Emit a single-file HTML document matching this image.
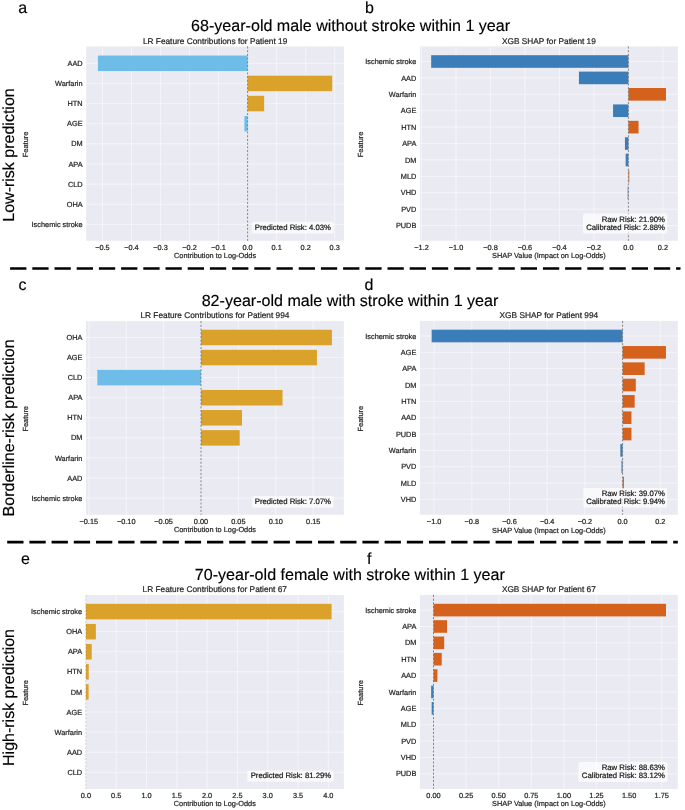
<!DOCTYPE html><html><head><meta charset="utf-8"><style>html,body{margin:0;padding:0;background:#fff;}svg{display:block;filter:blur(0.45px);text-rendering:geometricPrecision;}</style></head><body><svg width="685" height="810" viewBox="0 0 685 810" font-family='"Liberation Sans", sans-serif'>
<rect width="685" height="810" fill="#fff"/>
<rect x="86.2" y="46.4" width="257.80" height="194.40" fill="#EAEAF2"/>
<line x1="102.40" y1="46.4" x2="102.40" y2="240.8" stroke="#fff" stroke-width="1" stroke-opacity="0.5"/>
<line x1="131.44" y1="46.4" x2="131.44" y2="240.8" stroke="#fff" stroke-width="1" stroke-opacity="0.5"/>
<line x1="160.48" y1="46.4" x2="160.48" y2="240.8" stroke="#fff" stroke-width="1" stroke-opacity="0.5"/>
<line x1="189.52" y1="46.4" x2="189.52" y2="240.8" stroke="#fff" stroke-width="1" stroke-opacity="0.5"/>
<line x1="218.56" y1="46.4" x2="218.56" y2="240.8" stroke="#fff" stroke-width="1" stroke-opacity="0.5"/>
<line x1="247.60" y1="46.4" x2="247.60" y2="240.8" stroke="#fff" stroke-width="1" stroke-opacity="0.5"/>
<line x1="276.64" y1="46.4" x2="276.64" y2="240.8" stroke="#fff" stroke-width="1" stroke-opacity="0.5"/>
<line x1="305.68" y1="46.4" x2="305.68" y2="240.8" stroke="#fff" stroke-width="1" stroke-opacity="0.5"/>
<line x1="334.72" y1="46.4" x2="334.72" y2="240.8" stroke="#fff" stroke-width="1" stroke-opacity="0.5"/>
<line x1="86.2" y1="63.30" x2="344" y2="63.30" stroke="#fff" stroke-width="1" stroke-opacity="0.5"/>
<line x1="86.2" y1="83.43" x2="344" y2="83.43" stroke="#fff" stroke-width="1" stroke-opacity="0.5"/>
<line x1="86.2" y1="103.56" x2="344" y2="103.56" stroke="#fff" stroke-width="1" stroke-opacity="0.5"/>
<line x1="86.2" y1="123.69" x2="344" y2="123.69" stroke="#fff" stroke-width="1" stroke-opacity="0.5"/>
<line x1="86.2" y1="143.82" x2="344" y2="143.82" stroke="#fff" stroke-width="1" stroke-opacity="0.5"/>
<line x1="86.2" y1="163.95" x2="344" y2="163.95" stroke="#fff" stroke-width="1" stroke-opacity="0.5"/>
<line x1="86.2" y1="184.08" x2="344" y2="184.08" stroke="#fff" stroke-width="1" stroke-opacity="0.5"/>
<line x1="86.2" y1="204.21" x2="344" y2="204.21" stroke="#fff" stroke-width="1" stroke-opacity="0.5"/>
<line x1="86.2" y1="224.34" x2="344" y2="224.34" stroke="#fff" stroke-width="1" stroke-opacity="0.5"/>
<rect x="97.93" y="55.55" width="149.67" height="15.50" fill="#6DBDE8"/>
<rect x="247.60" y="75.68" width="84.65" height="15.50" fill="#DAA12B"/>
<rect x="247.60" y="95.81" width="16.55" height="15.50" fill="#DAA12B"/>
<rect x="244.41" y="115.94" width="3.19" height="15.50" fill="#6DBDE8"/>
<line x1="247.60" y1="46.4" x2="247.60" y2="240.8" stroke="#7a7a7a" stroke-opacity="1.0" stroke-width="0.9" stroke-dasharray="2.2 1.5"/>
<rect x="251.9" y="221.8" width="81.70" height="11.60" rx="1.6" fill="#fff" fill-opacity="0.72"/>
<text x="331.00" y="230.00" font-size="7.75" text-anchor="end" fill="#1a1a1a" stroke="#1a1a1a" stroke-width="0.22" >Predicted Risk: 4.03%</text>
<text x="102.40" y="249.90" font-size="7.35" text-anchor="middle" fill="#262626" stroke="#262626" stroke-width="0.22" >−0.5</text>
<text x="131.44" y="249.90" font-size="7.35" text-anchor="middle" fill="#262626" stroke="#262626" stroke-width="0.22" >−0.4</text>
<text x="160.48" y="249.90" font-size="7.35" text-anchor="middle" fill="#262626" stroke="#262626" stroke-width="0.22" >−0.3</text>
<text x="189.52" y="249.90" font-size="7.35" text-anchor="middle" fill="#262626" stroke="#262626" stroke-width="0.22" >−0.2</text>
<text x="218.56" y="249.90" font-size="7.35" text-anchor="middle" fill="#262626" stroke="#262626" stroke-width="0.22" >−0.1</text>
<text x="247.60" y="249.90" font-size="7.35" text-anchor="middle" fill="#262626" stroke="#262626" stroke-width="0.22" >0.0</text>
<text x="276.64" y="249.90" font-size="7.35" text-anchor="middle" fill="#262626" stroke="#262626" stroke-width="0.22" >0.1</text>
<text x="305.68" y="249.90" font-size="7.35" text-anchor="middle" fill="#262626" stroke="#262626" stroke-width="0.22" >0.2</text>
<text x="334.72" y="249.90" font-size="7.35" text-anchor="middle" fill="#262626" stroke="#262626" stroke-width="0.22" >0.3</text>
<text x="82.60" y="65.90" font-size="7.35" text-anchor="end" fill="#262626" stroke="#262626" stroke-width="0.22" >AAD</text>
<text x="82.60" y="86.03" font-size="7.35" text-anchor="end" fill="#262626" stroke="#262626" stroke-width="0.22" >Warfarin</text>
<text x="82.60" y="106.16" font-size="7.35" text-anchor="end" fill="#262626" stroke="#262626" stroke-width="0.22" >HTN</text>
<text x="82.60" y="126.29" font-size="7.35" text-anchor="end" fill="#262626" stroke="#262626" stroke-width="0.22" >AGE</text>
<text x="82.60" y="146.42" font-size="7.35" text-anchor="end" fill="#262626" stroke="#262626" stroke-width="0.22" >DM</text>
<text x="82.60" y="166.55" font-size="7.35" text-anchor="end" fill="#262626" stroke="#262626" stroke-width="0.22" >APA</text>
<text x="82.60" y="186.68" font-size="7.35" text-anchor="end" fill="#262626" stroke="#262626" stroke-width="0.22" >CLD</text>
<text x="82.60" y="206.81" font-size="7.35" text-anchor="end" fill="#262626" stroke="#262626" stroke-width="0.22" >OHA</text>
<text x="82.60" y="226.94" font-size="7.35" text-anchor="end" fill="#262626" stroke="#262626" stroke-width="0.22" >Ischemic stroke</text>
<text x="215.10" y="43.70" font-size="8.3" text-anchor="middle" fill="#262626" stroke="#262626" stroke-width="0.22" >LR Feature Contributions for Patient 19</text>
<text x="215.10" y="258.00" font-size="7.35" text-anchor="middle" fill="#262626" stroke="#262626" stroke-width="0.22" >Contribution to Log-Odds</text>
<text x="28.3" y="144.40" font-size="7.4" text-anchor="middle" fill="#262626" stroke="#262626" stroke-width="0.22" transform="rotate(-90 28.3 144.40)">Feature</text>
<rect x="419.9" y="46.4" width="258.00" height="194.40" fill="#EAEAF2"/>
<line x1="421.52" y1="46.4" x2="421.52" y2="240.8" stroke="#fff" stroke-width="1" stroke-opacity="0.5"/>
<line x1="456.00" y1="46.4" x2="456.00" y2="240.8" stroke="#fff" stroke-width="1" stroke-opacity="0.5"/>
<line x1="490.48" y1="46.4" x2="490.48" y2="240.8" stroke="#fff" stroke-width="1" stroke-opacity="0.5"/>
<line x1="524.96" y1="46.4" x2="524.96" y2="240.8" stroke="#fff" stroke-width="1" stroke-opacity="0.5"/>
<line x1="559.44" y1="46.4" x2="559.44" y2="240.8" stroke="#fff" stroke-width="1" stroke-opacity="0.5"/>
<line x1="593.92" y1="46.4" x2="593.92" y2="240.8" stroke="#fff" stroke-width="1" stroke-opacity="0.5"/>
<line x1="628.40" y1="46.4" x2="628.40" y2="240.8" stroke="#fff" stroke-width="1" stroke-opacity="0.5"/>
<line x1="662.88" y1="46.4" x2="662.88" y2="240.8" stroke="#fff" stroke-width="1" stroke-opacity="0.5"/>
<line x1="419.9" y1="61.50" x2="677.9" y2="61.50" stroke="#fff" stroke-width="1" stroke-opacity="0.5"/>
<line x1="419.9" y1="77.91" x2="677.9" y2="77.91" stroke="#fff" stroke-width="1" stroke-opacity="0.5"/>
<line x1="419.9" y1="94.32" x2="677.9" y2="94.32" stroke="#fff" stroke-width="1" stroke-opacity="0.5"/>
<line x1="419.9" y1="110.73" x2="677.9" y2="110.73" stroke="#fff" stroke-width="1" stroke-opacity="0.5"/>
<line x1="419.9" y1="127.14" x2="677.9" y2="127.14" stroke="#fff" stroke-width="1" stroke-opacity="0.5"/>
<line x1="419.9" y1="143.55" x2="677.9" y2="143.55" stroke="#fff" stroke-width="1" stroke-opacity="0.5"/>
<line x1="419.9" y1="159.96" x2="677.9" y2="159.96" stroke="#fff" stroke-width="1" stroke-opacity="0.5"/>
<line x1="419.9" y1="176.37" x2="677.9" y2="176.37" stroke="#fff" stroke-width="1" stroke-opacity="0.5"/>
<line x1="419.9" y1="192.78" x2="677.9" y2="192.78" stroke="#fff" stroke-width="1" stroke-opacity="0.5"/>
<line x1="419.9" y1="209.19" x2="677.9" y2="209.19" stroke="#fff" stroke-width="1" stroke-opacity="0.5"/>
<line x1="419.9" y1="225.60" x2="677.9" y2="225.60" stroke="#fff" stroke-width="1" stroke-opacity="0.5"/>
<rect x="431.17" y="55.20" width="197.23" height="12.60" fill="#3A7DB8"/>
<rect x="578.92" y="71.61" width="49.48" height="12.60" fill="#3A7DB8"/>
<rect x="628.40" y="88.02" width="37.58" height="12.60" fill="#D4611C"/>
<rect x="613.06" y="104.43" width="15.34" height="12.60" fill="#3A7DB8"/>
<rect x="628.40" y="120.84" width="10.17" height="12.60" fill="#D4611C"/>
<rect x="624.95" y="137.25" width="3.45" height="12.60" fill="#3A7DB8"/>
<rect x="625.64" y="153.66" width="2.76" height="12.60" fill="#3A7DB8"/>
<rect x="628.40" y="170.07" width="0.86" height="12.60" fill="#D4611C"/>
<rect x="627.71" y="186.48" width="0.69" height="12.60" fill="#3A7DB8"/>
<line x1="628.40" y1="46.4" x2="628.40" y2="240.8" stroke="#7a7a7a" stroke-opacity="1.0" stroke-width="0.9" stroke-dasharray="2.2 1.5"/>
<rect x="583.0" y="213.5" width="84.20" height="20.10" rx="1.6" fill="#fff" fill-opacity="0.72"/>
<text x="665.00" y="221.50" font-size="7.75" text-anchor="end" fill="#1a1a1a" stroke="#1a1a1a" stroke-width="0.22" >Raw Risk: 21.90%</text>
<text x="665.00" y="229.60" font-size="7.75" text-anchor="end" fill="#1a1a1a" stroke="#1a1a1a" stroke-width="0.22" >Calibrated Risk: 2.88%</text>
<text x="421.52" y="250.10" font-size="7.35" text-anchor="middle" fill="#262626" stroke="#262626" stroke-width="0.22" >−1.2</text>
<text x="456.00" y="250.10" font-size="7.35" text-anchor="middle" fill="#262626" stroke="#262626" stroke-width="0.22" >−1.0</text>
<text x="490.48" y="250.10" font-size="7.35" text-anchor="middle" fill="#262626" stroke="#262626" stroke-width="0.22" >−0.8</text>
<text x="524.96" y="250.10" font-size="7.35" text-anchor="middle" fill="#262626" stroke="#262626" stroke-width="0.22" >−0.6</text>
<text x="559.44" y="250.10" font-size="7.35" text-anchor="middle" fill="#262626" stroke="#262626" stroke-width="0.22" >−0.4</text>
<text x="593.92" y="250.10" font-size="7.35" text-anchor="middle" fill="#262626" stroke="#262626" stroke-width="0.22" >−0.2</text>
<text x="628.40" y="250.10" font-size="7.35" text-anchor="middle" fill="#262626" stroke="#262626" stroke-width="0.22" >0.0</text>
<text x="662.88" y="250.10" font-size="7.35" text-anchor="middle" fill="#262626" stroke="#262626" stroke-width="0.22" >0.2</text>
<text x="416.30" y="64.10" font-size="7.35" text-anchor="end" fill="#262626" stroke="#262626" stroke-width="0.22" >Ischemic stroke</text>
<text x="416.30" y="80.51" font-size="7.35" text-anchor="end" fill="#262626" stroke="#262626" stroke-width="0.22" >AAD</text>
<text x="416.30" y="96.92" font-size="7.35" text-anchor="end" fill="#262626" stroke="#262626" stroke-width="0.22" >Warfarin</text>
<text x="416.30" y="113.33" font-size="7.35" text-anchor="end" fill="#262626" stroke="#262626" stroke-width="0.22" >AGE</text>
<text x="416.30" y="129.74" font-size="7.35" text-anchor="end" fill="#262626" stroke="#262626" stroke-width="0.22" >HTN</text>
<text x="416.30" y="146.15" font-size="7.35" text-anchor="end" fill="#262626" stroke="#262626" stroke-width="0.22" >APA</text>
<text x="416.30" y="162.56" font-size="7.35" text-anchor="end" fill="#262626" stroke="#262626" stroke-width="0.22" >DM</text>
<text x="416.30" y="178.97" font-size="7.35" text-anchor="end" fill="#262626" stroke="#262626" stroke-width="0.22" >MLD</text>
<text x="416.30" y="195.38" font-size="7.35" text-anchor="end" fill="#262626" stroke="#262626" stroke-width="0.22" >VHD</text>
<text x="416.30" y="211.79" font-size="7.35" text-anchor="end" fill="#262626" stroke="#262626" stroke-width="0.22" >PVD</text>
<text x="416.30" y="228.20" font-size="7.35" text-anchor="end" fill="#262626" stroke="#262626" stroke-width="0.22" >PUDB</text>
<text x="548.90" y="43.70" font-size="8.3" text-anchor="middle" fill="#262626" stroke="#262626" stroke-width="0.22" >XGB SHAP for Patient 19</text>
<text x="548.90" y="258.00" font-size="7.35" text-anchor="middle" fill="#262626" stroke="#262626" stroke-width="0.22" >SHAP Value (Impact on Log-Odds)</text>
<text x="362.8" y="144.40" font-size="7.4" text-anchor="middle" fill="#262626" stroke="#262626" stroke-width="0.22" transform="rotate(-90 362.8 144.40)">Feature</text>
<rect x="86.0" y="321.1" width="257.90" height="193.70" fill="#EAEAF2"/>
<line x1="88.80" y1="321.1" x2="88.80" y2="514.8" stroke="#fff" stroke-width="1" stroke-opacity="0.5"/>
<line x1="126.20" y1="321.1" x2="126.20" y2="514.8" stroke="#fff" stroke-width="1" stroke-opacity="0.5"/>
<line x1="163.60" y1="321.1" x2="163.60" y2="514.8" stroke="#fff" stroke-width="1" stroke-opacity="0.5"/>
<line x1="201.00" y1="321.1" x2="201.00" y2="514.8" stroke="#fff" stroke-width="1" stroke-opacity="0.5"/>
<line x1="238.40" y1="321.1" x2="238.40" y2="514.8" stroke="#fff" stroke-width="1" stroke-opacity="0.5"/>
<line x1="275.80" y1="321.1" x2="275.80" y2="514.8" stroke="#fff" stroke-width="1" stroke-opacity="0.5"/>
<line x1="313.20" y1="321.1" x2="313.20" y2="514.8" stroke="#fff" stroke-width="1" stroke-opacity="0.5"/>
<line x1="86.0" y1="337.50" x2="343.9" y2="337.50" stroke="#fff" stroke-width="1" stroke-opacity="0.5"/>
<line x1="86.0" y1="357.57" x2="343.9" y2="357.57" stroke="#fff" stroke-width="1" stroke-opacity="0.5"/>
<line x1="86.0" y1="377.65" x2="343.9" y2="377.65" stroke="#fff" stroke-width="1" stroke-opacity="0.5"/>
<line x1="86.0" y1="397.73" x2="343.9" y2="397.73" stroke="#fff" stroke-width="1" stroke-opacity="0.5"/>
<line x1="86.0" y1="417.80" x2="343.9" y2="417.80" stroke="#fff" stroke-width="1" stroke-opacity="0.5"/>
<line x1="86.0" y1="437.88" x2="343.9" y2="437.88" stroke="#fff" stroke-width="1" stroke-opacity="0.5"/>
<line x1="86.0" y1="457.95" x2="343.9" y2="457.95" stroke="#fff" stroke-width="1" stroke-opacity="0.5"/>
<line x1="86.0" y1="478.02" x2="343.9" y2="478.02" stroke="#fff" stroke-width="1" stroke-opacity="0.5"/>
<line x1="86.0" y1="498.10" x2="343.9" y2="498.10" stroke="#fff" stroke-width="1" stroke-opacity="0.5"/>
<rect x="201.00" y="329.75" width="130.90" height="15.50" fill="#DAA12B"/>
<rect x="201.00" y="349.82" width="115.94" height="15.50" fill="#DAA12B"/>
<rect x="97.33" y="369.90" width="103.67" height="15.50" fill="#6DBDE8"/>
<rect x="201.00" y="389.98" width="81.53" height="15.50" fill="#DAA12B"/>
<rect x="201.00" y="410.05" width="40.99" height="15.50" fill="#DAA12B"/>
<rect x="201.00" y="430.12" width="38.67" height="15.50" fill="#DAA12B"/>
<line x1="201.00" y1="321.1" x2="201.00" y2="514.8" stroke="#7a7a7a" stroke-opacity="1.0" stroke-width="0.9" stroke-dasharray="2.2 1.5"/>
<rect x="252.2" y="495.9" width="81.30" height="11.80" rx="1.6" fill="#fff" fill-opacity="0.72"/>
<text x="331.00" y="503.80" font-size="7.75" text-anchor="end" fill="#1a1a1a" stroke="#1a1a1a" stroke-width="0.22" >Predicted Risk: 7.07%</text>
<text x="88.80" y="524.10" font-size="7.35" text-anchor="middle" fill="#262626" stroke="#262626" stroke-width="0.22" >−0.15</text>
<text x="126.20" y="524.10" font-size="7.35" text-anchor="middle" fill="#262626" stroke="#262626" stroke-width="0.22" >−0.10</text>
<text x="163.60" y="524.10" font-size="7.35" text-anchor="middle" fill="#262626" stroke="#262626" stroke-width="0.22" >−0.05</text>
<text x="201.00" y="524.10" font-size="7.35" text-anchor="middle" fill="#262626" stroke="#262626" stroke-width="0.22" >0.00</text>
<text x="238.40" y="524.10" font-size="7.35" text-anchor="middle" fill="#262626" stroke="#262626" stroke-width="0.22" >0.05</text>
<text x="275.80" y="524.10" font-size="7.35" text-anchor="middle" fill="#262626" stroke="#262626" stroke-width="0.22" >0.10</text>
<text x="313.20" y="524.10" font-size="7.35" text-anchor="middle" fill="#262626" stroke="#262626" stroke-width="0.22" >0.15</text>
<text x="82.40" y="340.10" font-size="7.35" text-anchor="end" fill="#262626" stroke="#262626" stroke-width="0.22" >OHA</text>
<text x="82.40" y="360.18" font-size="7.35" text-anchor="end" fill="#262626" stroke="#262626" stroke-width="0.22" >AGE</text>
<text x="82.40" y="380.25" font-size="7.35" text-anchor="end" fill="#262626" stroke="#262626" stroke-width="0.22" >CLD</text>
<text x="82.40" y="400.33" font-size="7.35" text-anchor="end" fill="#262626" stroke="#262626" stroke-width="0.22" >APA</text>
<text x="82.40" y="420.40" font-size="7.35" text-anchor="end" fill="#262626" stroke="#262626" stroke-width="0.22" >HTN</text>
<text x="82.40" y="440.48" font-size="7.35" text-anchor="end" fill="#262626" stroke="#262626" stroke-width="0.22" >DM</text>
<text x="82.40" y="460.55" font-size="7.35" text-anchor="end" fill="#262626" stroke="#262626" stroke-width="0.22" >Warfarin</text>
<text x="82.40" y="480.62" font-size="7.35" text-anchor="end" fill="#262626" stroke="#262626" stroke-width="0.22" >AAD</text>
<text x="82.40" y="500.70" font-size="7.35" text-anchor="end" fill="#262626" stroke="#262626" stroke-width="0.22" >Ischemic stroke</text>
<text x="214.95" y="317.90" font-size="8.3" text-anchor="middle" fill="#262626" stroke="#262626" stroke-width="0.22" >LR Feature Contributions for Patient 994</text>
<text x="214.95" y="532.20" font-size="7.35" text-anchor="middle" fill="#262626" stroke="#262626" stroke-width="0.22" >Contribution to Log-Odds</text>
<text x="28.3" y="418.75" font-size="7.4" text-anchor="middle" fill="#262626" stroke="#262626" stroke-width="0.22" transform="rotate(-90 28.3 418.75)">Feature</text>
<rect x="419.9" y="320.9" width="257.90" height="193.90" fill="#EAEAF2"/>
<line x1="434.10" y1="320.9" x2="434.10" y2="514.8" stroke="#fff" stroke-width="1" stroke-opacity="0.5"/>
<line x1="471.80" y1="320.9" x2="471.80" y2="514.8" stroke="#fff" stroke-width="1" stroke-opacity="0.5"/>
<line x1="509.50" y1="320.9" x2="509.50" y2="514.8" stroke="#fff" stroke-width="1" stroke-opacity="0.5"/>
<line x1="547.20" y1="320.9" x2="547.20" y2="514.8" stroke="#fff" stroke-width="1" stroke-opacity="0.5"/>
<line x1="584.90" y1="320.9" x2="584.90" y2="514.8" stroke="#fff" stroke-width="1" stroke-opacity="0.5"/>
<line x1="622.60" y1="320.9" x2="622.60" y2="514.8" stroke="#fff" stroke-width="1" stroke-opacity="0.5"/>
<line x1="660.30" y1="320.9" x2="660.30" y2="514.8" stroke="#fff" stroke-width="1" stroke-opacity="0.5"/>
<line x1="419.9" y1="336.00" x2="677.8" y2="336.00" stroke="#fff" stroke-width="1" stroke-opacity="0.5"/>
<line x1="419.9" y1="352.34" x2="677.8" y2="352.34" stroke="#fff" stroke-width="1" stroke-opacity="0.5"/>
<line x1="419.9" y1="368.68" x2="677.8" y2="368.68" stroke="#fff" stroke-width="1" stroke-opacity="0.5"/>
<line x1="419.9" y1="385.02" x2="677.8" y2="385.02" stroke="#fff" stroke-width="1" stroke-opacity="0.5"/>
<line x1="419.9" y1="401.36" x2="677.8" y2="401.36" stroke="#fff" stroke-width="1" stroke-opacity="0.5"/>
<line x1="419.9" y1="417.70" x2="677.8" y2="417.70" stroke="#fff" stroke-width="1" stroke-opacity="0.5"/>
<line x1="419.9" y1="434.04" x2="677.8" y2="434.04" stroke="#fff" stroke-width="1" stroke-opacity="0.5"/>
<line x1="419.9" y1="450.38" x2="677.8" y2="450.38" stroke="#fff" stroke-width="1" stroke-opacity="0.5"/>
<line x1="419.9" y1="466.72" x2="677.8" y2="466.72" stroke="#fff" stroke-width="1" stroke-opacity="0.5"/>
<line x1="419.9" y1="483.06" x2="677.8" y2="483.06" stroke="#fff" stroke-width="1" stroke-opacity="0.5"/>
<line x1="419.9" y1="499.40" x2="677.8" y2="499.40" stroke="#fff" stroke-width="1" stroke-opacity="0.5"/>
<rect x="431.65" y="329.70" width="190.95" height="12.60" fill="#3A7DB8"/>
<rect x="622.60" y="346.04" width="43.36" height="12.60" fill="#D4611C"/>
<rect x="622.60" y="362.38" width="22.05" height="12.60" fill="#D4611C"/>
<rect x="622.60" y="378.72" width="13.20" height="12.60" fill="#D4611C"/>
<rect x="622.60" y="395.06" width="12.06" height="12.60" fill="#D4611C"/>
<rect x="622.60" y="411.40" width="8.86" height="12.60" fill="#D4611C"/>
<rect x="622.60" y="427.74" width="8.86" height="12.60" fill="#D4611C"/>
<rect x="620.34" y="444.08" width="2.26" height="12.60" fill="#3A7DB8"/>
<rect x="621.47" y="460.42" width="1.13" height="12.60" fill="#3A7DB8"/>
<rect x="622.60" y="476.76" width="1.32" height="12.60" fill="#D4611C"/>
<line x1="622.60" y1="320.9" x2="622.60" y2="514.8" stroke="#7a7a7a" stroke-opacity="1.0" stroke-width="0.9" stroke-dasharray="2.2 1.5"/>
<rect x="583.3" y="488.0" width="83.90" height="19.40" rx="1.6" fill="#fff" fill-opacity="0.72"/>
<text x="665.00" y="495.90" font-size="7.75" text-anchor="end" fill="#1a1a1a" stroke="#1a1a1a" stroke-width="0.22" >Raw Risk: 39.07%</text>
<text x="665.00" y="503.80" font-size="7.75" text-anchor="end" fill="#1a1a1a" stroke="#1a1a1a" stroke-width="0.22" >Calibrated Risk: 9.94%</text>
<text x="434.10" y="524.30" font-size="7.35" text-anchor="middle" fill="#262626" stroke="#262626" stroke-width="0.22" >−1.0</text>
<text x="471.80" y="524.30" font-size="7.35" text-anchor="middle" fill="#262626" stroke="#262626" stroke-width="0.22" >−0.8</text>
<text x="509.50" y="524.30" font-size="7.35" text-anchor="middle" fill="#262626" stroke="#262626" stroke-width="0.22" >−0.6</text>
<text x="547.20" y="524.30" font-size="7.35" text-anchor="middle" fill="#262626" stroke="#262626" stroke-width="0.22" >−0.4</text>
<text x="584.90" y="524.30" font-size="7.35" text-anchor="middle" fill="#262626" stroke="#262626" stroke-width="0.22" >−0.2</text>
<text x="622.60" y="524.30" font-size="7.35" text-anchor="middle" fill="#262626" stroke="#262626" stroke-width="0.22" >0.0</text>
<text x="660.30" y="524.30" font-size="7.35" text-anchor="middle" fill="#262626" stroke="#262626" stroke-width="0.22" >0.2</text>
<text x="416.30" y="338.60" font-size="7.35" text-anchor="end" fill="#262626" stroke="#262626" stroke-width="0.22" >Ischemic stroke</text>
<text x="416.30" y="354.94" font-size="7.35" text-anchor="end" fill="#262626" stroke="#262626" stroke-width="0.22" >AGE</text>
<text x="416.30" y="371.28" font-size="7.35" text-anchor="end" fill="#262626" stroke="#262626" stroke-width="0.22" >APA</text>
<text x="416.30" y="387.62" font-size="7.35" text-anchor="end" fill="#262626" stroke="#262626" stroke-width="0.22" >DM</text>
<text x="416.30" y="403.96" font-size="7.35" text-anchor="end" fill="#262626" stroke="#262626" stroke-width="0.22" >HTN</text>
<text x="416.30" y="420.30" font-size="7.35" text-anchor="end" fill="#262626" stroke="#262626" stroke-width="0.22" >AAD</text>
<text x="416.30" y="436.64" font-size="7.35" text-anchor="end" fill="#262626" stroke="#262626" stroke-width="0.22" >PUDB</text>
<text x="416.30" y="452.98" font-size="7.35" text-anchor="end" fill="#262626" stroke="#262626" stroke-width="0.22" >Warfarin</text>
<text x="416.30" y="469.32" font-size="7.35" text-anchor="end" fill="#262626" stroke="#262626" stroke-width="0.22" >PVD</text>
<text x="416.30" y="485.66" font-size="7.35" text-anchor="end" fill="#262626" stroke="#262626" stroke-width="0.22" >MLD</text>
<text x="416.30" y="502.00" font-size="7.35" text-anchor="end" fill="#262626" stroke="#262626" stroke-width="0.22" >VHD</text>
<text x="548.85" y="317.90" font-size="8.3" text-anchor="middle" fill="#262626" stroke="#262626" stroke-width="0.22" >XGB SHAP for Patient 994</text>
<text x="548.85" y="532.50" font-size="7.35" text-anchor="middle" fill="#262626" stroke="#262626" stroke-width="0.22" >SHAP Value (Impact on Log-Odds)</text>
<text x="362.8" y="418.65" font-size="7.4" text-anchor="middle" fill="#262626" stroke="#262626" stroke-width="0.22" transform="rotate(-90 362.8 418.65)">Feature</text>
<rect x="85.7" y="595.0" width="258.20" height="194.00" fill="#EAEAF2"/>
<line x1="85.90" y1="595.0" x2="85.90" y2="789.0" stroke="#fff" stroke-width="1" stroke-opacity="0.5"/>
<line x1="116.20" y1="595.0" x2="116.20" y2="789.0" stroke="#fff" stroke-width="1" stroke-opacity="0.5"/>
<line x1="146.50" y1="595.0" x2="146.50" y2="789.0" stroke="#fff" stroke-width="1" stroke-opacity="0.5"/>
<line x1="176.80" y1="595.0" x2="176.80" y2="789.0" stroke="#fff" stroke-width="1" stroke-opacity="0.5"/>
<line x1="207.10" y1="595.0" x2="207.10" y2="789.0" stroke="#fff" stroke-width="1" stroke-opacity="0.5"/>
<line x1="237.40" y1="595.0" x2="237.40" y2="789.0" stroke="#fff" stroke-width="1" stroke-opacity="0.5"/>
<line x1="267.70" y1="595.0" x2="267.70" y2="789.0" stroke="#fff" stroke-width="1" stroke-opacity="0.5"/>
<line x1="298.00" y1="595.0" x2="298.00" y2="789.0" stroke="#fff" stroke-width="1" stroke-opacity="0.5"/>
<line x1="328.30" y1="595.0" x2="328.30" y2="789.0" stroke="#fff" stroke-width="1" stroke-opacity="0.5"/>
<line x1="85.7" y1="611.60" x2="343.9" y2="611.60" stroke="#fff" stroke-width="1" stroke-opacity="0.5"/>
<line x1="85.7" y1="631.68" x2="343.9" y2="631.68" stroke="#fff" stroke-width="1" stroke-opacity="0.5"/>
<line x1="85.7" y1="651.76" x2="343.9" y2="651.76" stroke="#fff" stroke-width="1" stroke-opacity="0.5"/>
<line x1="85.7" y1="671.84" x2="343.9" y2="671.84" stroke="#fff" stroke-width="1" stroke-opacity="0.5"/>
<line x1="85.7" y1="691.92" x2="343.9" y2="691.92" stroke="#fff" stroke-width="1" stroke-opacity="0.5"/>
<line x1="85.7" y1="712.00" x2="343.9" y2="712.00" stroke="#fff" stroke-width="1" stroke-opacity="0.5"/>
<line x1="85.7" y1="732.08" x2="343.9" y2="732.08" stroke="#fff" stroke-width="1" stroke-opacity="0.5"/>
<line x1="85.7" y1="752.16" x2="343.9" y2="752.16" stroke="#fff" stroke-width="1" stroke-opacity="0.5"/>
<line x1="85.7" y1="772.24" x2="343.9" y2="772.24" stroke="#fff" stroke-width="1" stroke-opacity="0.5"/>
<rect x="85.90" y="603.85" width="245.67" height="15.50" fill="#DAA12B"/>
<rect x="85.90" y="623.93" width="9.94" height="15.50" fill="#DAA12B"/>
<rect x="85.90" y="644.01" width="5.82" height="15.50" fill="#DAA12B"/>
<rect x="85.90" y="664.09" width="2.85" height="15.50" fill="#DAA12B"/>
<rect x="85.90" y="684.17" width="2.73" height="15.50" fill="#DAA12B"/>
<line x1="85.90" y1="595.0" x2="85.90" y2="789.0" stroke="#7a7a7a" stroke-opacity="0.35" stroke-width="0.9" stroke-dasharray="2.2 1.5"/>
<rect x="247.2" y="770.5" width="86.40" height="11.30" rx="1.6" fill="#fff" fill-opacity="0.72"/>
<text x="331.20" y="778.20" font-size="7.75" text-anchor="end" fill="#1a1a1a" stroke="#1a1a1a" stroke-width="0.22" >Predicted Risk: 81.29%</text>
<text x="85.90" y="798.00" font-size="7.35" text-anchor="middle" fill="#262626" stroke="#262626" stroke-width="0.22" >0.0</text>
<text x="116.20" y="798.00" font-size="7.35" text-anchor="middle" fill="#262626" stroke="#262626" stroke-width="0.22" >0.5</text>
<text x="146.50" y="798.00" font-size="7.35" text-anchor="middle" fill="#262626" stroke="#262626" stroke-width="0.22" >1.0</text>
<text x="176.80" y="798.00" font-size="7.35" text-anchor="middle" fill="#262626" stroke="#262626" stroke-width="0.22" >1.5</text>
<text x="207.10" y="798.00" font-size="7.35" text-anchor="middle" fill="#262626" stroke="#262626" stroke-width="0.22" >2.0</text>
<text x="237.40" y="798.00" font-size="7.35" text-anchor="middle" fill="#262626" stroke="#262626" stroke-width="0.22" >2.5</text>
<text x="267.70" y="798.00" font-size="7.35" text-anchor="middle" fill="#262626" stroke="#262626" stroke-width="0.22" >3.0</text>
<text x="298.00" y="798.00" font-size="7.35" text-anchor="middle" fill="#262626" stroke="#262626" stroke-width="0.22" >3.5</text>
<text x="328.30" y="798.00" font-size="7.35" text-anchor="middle" fill="#262626" stroke="#262626" stroke-width="0.22" >4.0</text>
<text x="82.10" y="614.20" font-size="7.35" text-anchor="end" fill="#262626" stroke="#262626" stroke-width="0.22" >Ischemic stroke</text>
<text x="82.10" y="634.28" font-size="7.35" text-anchor="end" fill="#262626" stroke="#262626" stroke-width="0.22" >OHA</text>
<text x="82.10" y="654.36" font-size="7.35" text-anchor="end" fill="#262626" stroke="#262626" stroke-width="0.22" >APA</text>
<text x="82.10" y="674.44" font-size="7.35" text-anchor="end" fill="#262626" stroke="#262626" stroke-width="0.22" >HTN</text>
<text x="82.10" y="694.52" font-size="7.35" text-anchor="end" fill="#262626" stroke="#262626" stroke-width="0.22" >DM</text>
<text x="82.10" y="714.60" font-size="7.35" text-anchor="end" fill="#262626" stroke="#262626" stroke-width="0.22" >AGE</text>
<text x="82.10" y="734.68" font-size="7.35" text-anchor="end" fill="#262626" stroke="#262626" stroke-width="0.22" >Warfarin</text>
<text x="82.10" y="754.76" font-size="7.35" text-anchor="end" fill="#262626" stroke="#262626" stroke-width="0.22" >AAD</text>
<text x="82.10" y="774.84" font-size="7.35" text-anchor="end" fill="#262626" stroke="#262626" stroke-width="0.22" >CLD</text>
<text x="214.80" y="591.90" font-size="8.3" text-anchor="middle" fill="#262626" stroke="#262626" stroke-width="0.22" >LR Feature Contributions for Patient 67</text>
<text x="214.80" y="806.20" font-size="7.35" text-anchor="middle" fill="#262626" stroke="#262626" stroke-width="0.22" >Contribution to Log-Odds</text>
<text x="28.3" y="692.80" font-size="7.4" text-anchor="middle" fill="#262626" stroke="#262626" stroke-width="0.22" transform="rotate(-90 28.3 692.80)">Feature</text>
<rect x="419.9" y="594.9" width="257.90" height="194.10" fill="#EAEAF2"/>
<line x1="433.50" y1="594.9" x2="433.50" y2="789.0" stroke="#fff" stroke-width="1" stroke-opacity="0.5"/>
<line x1="466.10" y1="594.9" x2="466.10" y2="789.0" stroke="#fff" stroke-width="1" stroke-opacity="0.5"/>
<line x1="498.70" y1="594.9" x2="498.70" y2="789.0" stroke="#fff" stroke-width="1" stroke-opacity="0.5"/>
<line x1="531.30" y1="594.9" x2="531.30" y2="789.0" stroke="#fff" stroke-width="1" stroke-opacity="0.5"/>
<line x1="563.90" y1="594.9" x2="563.90" y2="789.0" stroke="#fff" stroke-width="1" stroke-opacity="0.5"/>
<line x1="596.50" y1="594.9" x2="596.50" y2="789.0" stroke="#fff" stroke-width="1" stroke-opacity="0.5"/>
<line x1="629.10" y1="594.9" x2="629.10" y2="789.0" stroke="#fff" stroke-width="1" stroke-opacity="0.5"/>
<line x1="661.70" y1="594.9" x2="661.70" y2="789.0" stroke="#fff" stroke-width="1" stroke-opacity="0.5"/>
<line x1="419.9" y1="610.10" x2="677.8" y2="610.10" stroke="#fff" stroke-width="1" stroke-opacity="0.5"/>
<line x1="419.9" y1="626.47" x2="677.8" y2="626.47" stroke="#fff" stroke-width="1" stroke-opacity="0.5"/>
<line x1="419.9" y1="642.84" x2="677.8" y2="642.84" stroke="#fff" stroke-width="1" stroke-opacity="0.5"/>
<line x1="419.9" y1="659.21" x2="677.8" y2="659.21" stroke="#fff" stroke-width="1" stroke-opacity="0.5"/>
<line x1="419.9" y1="675.58" x2="677.8" y2="675.58" stroke="#fff" stroke-width="1" stroke-opacity="0.5"/>
<line x1="419.9" y1="691.95" x2="677.8" y2="691.95" stroke="#fff" stroke-width="1" stroke-opacity="0.5"/>
<line x1="419.9" y1="708.32" x2="677.8" y2="708.32" stroke="#fff" stroke-width="1" stroke-opacity="0.5"/>
<line x1="419.9" y1="724.69" x2="677.8" y2="724.69" stroke="#fff" stroke-width="1" stroke-opacity="0.5"/>
<line x1="419.9" y1="741.06" x2="677.8" y2="741.06" stroke="#fff" stroke-width="1" stroke-opacity="0.5"/>
<line x1="419.9" y1="757.43" x2="677.8" y2="757.43" stroke="#fff" stroke-width="1" stroke-opacity="0.5"/>
<line x1="419.9" y1="773.80" x2="677.8" y2="773.80" stroke="#fff" stroke-width="1" stroke-opacity="0.5"/>
<rect x="433.50" y="603.80" width="232.50" height="12.60" fill="#D4611C"/>
<rect x="433.50" y="620.17" width="13.56" height="12.60" fill="#D4611C"/>
<rect x="433.50" y="636.54" width="10.69" height="12.60" fill="#D4611C"/>
<rect x="433.50" y="652.91" width="8.22" height="12.60" fill="#D4611C"/>
<rect x="433.50" y="669.28" width="3.91" height="12.60" fill="#D4611C"/>
<rect x="431.15" y="685.65" width="2.35" height="12.60" fill="#3A7DB8"/>
<rect x="431.67" y="702.02" width="1.83" height="12.60" fill="#3A7DB8"/>
<line x1="433.50" y1="594.9" x2="433.50" y2="789.0" stroke="#7a7a7a" stroke-opacity="1.0" stroke-width="0.9" stroke-dasharray="2.2 1.5"/>
<rect x="578.4" y="762.0" width="89.10" height="20.10" rx="1.6" fill="#fff" fill-opacity="0.72"/>
<text x="665.00" y="770.20" font-size="7.75" text-anchor="end" fill="#1a1a1a" stroke="#1a1a1a" stroke-width="0.22" >Raw Risk: 88.63%</text>
<text x="665.00" y="778.10" font-size="7.75" text-anchor="end" fill="#1a1a1a" stroke="#1a1a1a" stroke-width="0.22" >Calibrated Risk: 83.12%</text>
<text x="433.50" y="798.00" font-size="7.35" text-anchor="middle" fill="#262626" stroke="#262626" stroke-width="0.22" >0.00</text>
<text x="466.10" y="798.00" font-size="7.35" text-anchor="middle" fill="#262626" stroke="#262626" stroke-width="0.22" >0.25</text>
<text x="498.70" y="798.00" font-size="7.35" text-anchor="middle" fill="#262626" stroke="#262626" stroke-width="0.22" >0.50</text>
<text x="531.30" y="798.00" font-size="7.35" text-anchor="middle" fill="#262626" stroke="#262626" stroke-width="0.22" >0.75</text>
<text x="563.90" y="798.00" font-size="7.35" text-anchor="middle" fill="#262626" stroke="#262626" stroke-width="0.22" >1.00</text>
<text x="596.50" y="798.00" font-size="7.35" text-anchor="middle" fill="#262626" stroke="#262626" stroke-width="0.22" >1.25</text>
<text x="629.10" y="798.00" font-size="7.35" text-anchor="middle" fill="#262626" stroke="#262626" stroke-width="0.22" >1.50</text>
<text x="661.70" y="798.00" font-size="7.35" text-anchor="middle" fill="#262626" stroke="#262626" stroke-width="0.22" >1.75</text>
<text x="416.30" y="612.70" font-size="7.35" text-anchor="end" fill="#262626" stroke="#262626" stroke-width="0.22" >Ischemic stroke</text>
<text x="416.30" y="629.07" font-size="7.35" text-anchor="end" fill="#262626" stroke="#262626" stroke-width="0.22" >APA</text>
<text x="416.30" y="645.44" font-size="7.35" text-anchor="end" fill="#262626" stroke="#262626" stroke-width="0.22" >DM</text>
<text x="416.30" y="661.81" font-size="7.35" text-anchor="end" fill="#262626" stroke="#262626" stroke-width="0.22" >HTN</text>
<text x="416.30" y="678.18" font-size="7.35" text-anchor="end" fill="#262626" stroke="#262626" stroke-width="0.22" >AAD</text>
<text x="416.30" y="694.55" font-size="7.35" text-anchor="end" fill="#262626" stroke="#262626" stroke-width="0.22" >Warfarin</text>
<text x="416.30" y="710.92" font-size="7.35" text-anchor="end" fill="#262626" stroke="#262626" stroke-width="0.22" >AGE</text>
<text x="416.30" y="727.29" font-size="7.35" text-anchor="end" fill="#262626" stroke="#262626" stroke-width="0.22" >MLD</text>
<text x="416.30" y="743.66" font-size="7.35" text-anchor="end" fill="#262626" stroke="#262626" stroke-width="0.22" >PVD</text>
<text x="416.30" y="760.03" font-size="7.35" text-anchor="end" fill="#262626" stroke="#262626" stroke-width="0.22" >VHD</text>
<text x="416.30" y="776.40" font-size="7.35" text-anchor="end" fill="#262626" stroke="#262626" stroke-width="0.22" >PUDB</text>
<text x="548.85" y="591.90" font-size="8.3" text-anchor="middle" fill="#262626" stroke="#262626" stroke-width="0.22" >XGB SHAP for Patient 67</text>
<text x="548.85" y="806.20" font-size="7.35" text-anchor="middle" fill="#262626" stroke="#262626" stroke-width="0.22" >SHAP Value (Impact on Log-Odds)</text>
<text x="362.8" y="692.75" font-size="7.4" text-anchor="middle" fill="#262626" stroke="#262626" stroke-width="0.22" transform="rotate(-90 362.8 692.75)">Feature</text>
<text x="350.60" y="30.80" font-size="16.08" text-anchor="middle" fill="#000" stroke="#000" stroke-width="0.15" >68-year-old male without stroke within 1 year</text>
<text x="350.00" y="306.20" font-size="16.08" text-anchor="middle" fill="#000" stroke="#000" stroke-width="0.15" >82-year-old male with stroke within 1 year</text>
<text x="349.80" y="580.30" font-size="16.08" text-anchor="middle" fill="#000" stroke="#000" stroke-width="0.15" >70-year-old female with stroke within 1 year</text>
<text x="18.20" y="13.20" font-size="16" text-anchor="start" fill="#000" stroke="#000" stroke-width="0.15" >a</text>
<text x="365.00" y="13.20" font-size="16" text-anchor="start" fill="#000" stroke="#000" stroke-width="0.15" >b</text>
<text x="18.60" y="290.30" font-size="16" text-anchor="start" fill="#000" stroke="#000" stroke-width="0.15" >c</text>
<text x="364.60" y="290.30" font-size="16" text-anchor="start" fill="#000" stroke="#000" stroke-width="0.15" >d</text>
<text x="21.10" y="563.80" font-size="16" text-anchor="start" fill="#000" stroke="#000" stroke-width="0.15" >e</text>
<text x="367.10" y="563.80" font-size="16" text-anchor="start" fill="#000" stroke="#000" stroke-width="0.15" >f</text>
<text x="14.1" y="155.0" font-size="16" text-anchor="middle" fill="#000" stroke="#000" stroke-width="0.15" transform="rotate(-90 14.1 155.0)">Low-risk prediction</text>
<text x="14.1" y="427.9" font-size="16" text-anchor="middle" fill="#000" stroke="#000" stroke-width="0.15" transform="rotate(-90 14.1 427.9)">Borderline-risk prediction</text>
<text x="14.1" y="697.5" font-size="16" text-anchor="middle" fill="#000" stroke="#000" stroke-width="0.15" transform="rotate(-90 14.1 697.5)">High-risk prediction</text>
<line x1="10.1" y1="268.5" x2="680.5" y2="268.5" stroke="#000" stroke-width="2.6" stroke-dasharray="16.3 5.9"/>
<line x1="7.2" y1="542.1" x2="677.8" y2="542.1" stroke="#000" stroke-width="2.6" stroke-dasharray="16.3 5.9"/>
</svg></body></html>
